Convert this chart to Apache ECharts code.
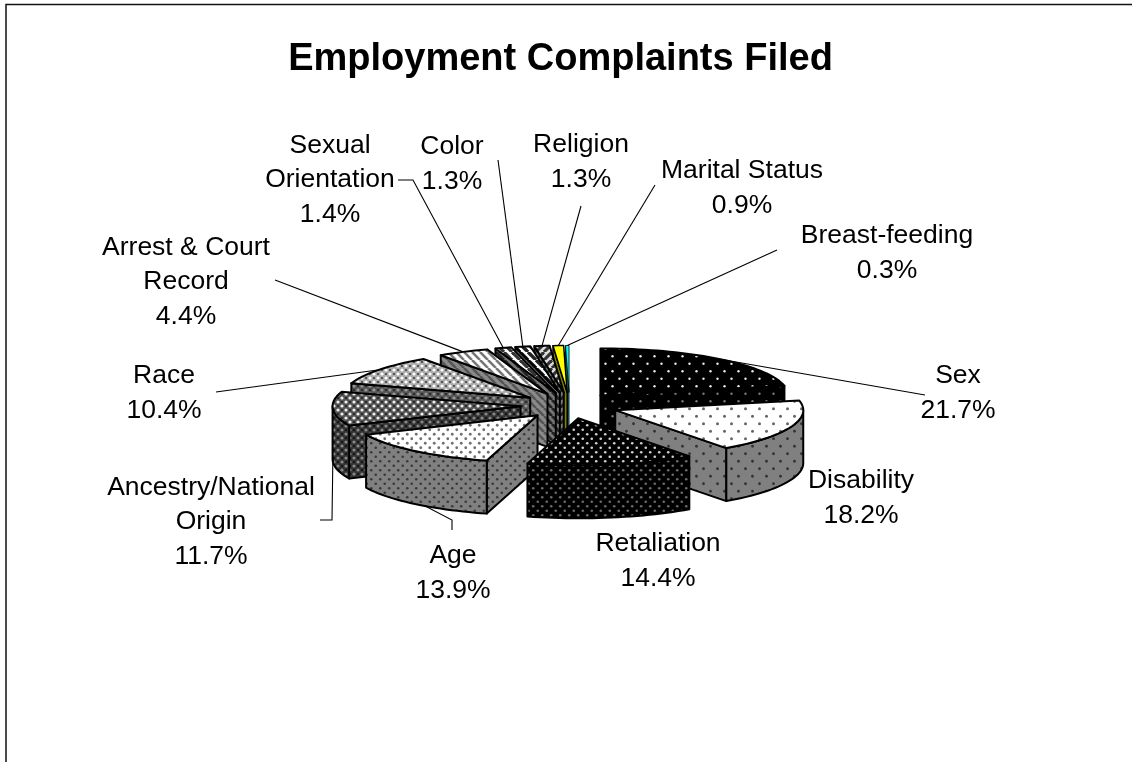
<!DOCTYPE html>
<html><head><meta charset="utf-8">
<style>html,body{margin:0;padding:0;background:#fff}#c{width:1132px;height:762px}</style>
<script src="https://cdn.jsdelivr.net/npm/echarts@6/dist/echarts.min.js"></script>
</head><body><div id="c"></div>
<script>
// ---- data ----
const categories = ['Sex','Disability','Retaliation','Age','Ancestry/National\nOrigin','Race','Arrest & Court\nRecord','Sexual\nOrientation','Color','Religion','Marital Status','Breast-feeding'];
const values = [21.7,18.2,14.4,13.9,11.7,10.4,4.4,1.4,1.3,1.3,0.9,0.3];
const titleText = 'Employment Complaints Filed';

// ---- layout, kept apart from the data ----
const G = {cx:569.5, cy:405.5, rx:188, ry:47, depth:53, ex:49, ey:13};
const drawOrder = [11,10,9,8,7,6,5,0,4,1,3,2];            // back to front
const labelCentres = [[958,393],[861,498],[658,561],[453,573],[211,522],[164,393],[186,282],[330,180],[452,164],[581,162],[742,188],[887,253]];
// leader start points (null = no leader), optional elbow, how far down the wall it meets the slice, angle nudge
const leaderStarts = [[[925,395]],null,null,[[452,530],[452,520]],[[320,520],[332,520]],[[216,392]],[[275,280]],[[398,180],[413,180]],[[498,160]],[[581,206]],[[655,185]],[[777,250]]];
const leaderWall = [0,0,0,1,0.95,0,0,0,0,0,0,0];
const leaderNudge = [0,0,0,-4,0,0,0,0,0,0,0,0];
const edgeWidths = [2,2,2,2,2,2,2,2,2,2,1.5,0.8];

function tile(w,h,bg,draw){const c=document.createElement('canvas');c.width=w;c.height=h;const x=c.getContext('2d');x.fillStyle=bg;x.fillRect(0,0,w,h);draw(x);return {image:c,repeat:'repeat'};}
function dots(bg,fg,w,h,r){return tile(w,h,bg,x=>{x.fillStyle=fg;[[w/4,h/4],[3*w/4,3*h/4]].forEach(p=>{x.beginPath();x.arc(p[0],p[1],r,0,7);x.fill();});});}
function plaid(bg,fg,dk,s){return tile(s,s,bg,x=>{x.fillStyle=fg;[[s/4,s/4],[3*s/4,3*s/4]].forEach(p=>{x.beginPath();x.arc(p[0],p[1],s*0.2,0,7);x.fill();});x.fillStyle=dk;[[s/4,3*s/4],[3*s/4,s/4]].forEach(p=>{x.beginPath();x.arc(p[0],p[1],s*0.14,0,7);x.fill();});});}
function stripes(bg,fg,s,lw,dir){return tile(s,s,bg,x=>{x.strokeStyle=fg;x.lineWidth=lw;for(let i=-s;i<=2*s;i+=s){x.beginPath();if(dir>0){x.moveTo(i,0);x.lineTo(i+s,s);}else{x.moveTo(i+s,0);x.lineTo(i,s);}x.stroke();}});}
const topFills = [
  dots('#000','#e8e8e8',14,15,1.2),
  dots('#fff','#666',14,15,1.5),
  dots('#000','#d0d0d0',9,9,1.3),
  dots('#fff','#707070',9,9,1.4),
  plaid('#555','#eee','#222',8),
  plaid('#aaa','#fff','#444',8),
  stripes('#fff','#777',8,2.6,1),
  stripes('#fff','#333',8,3.2,1),
  stripes('#fff','#222',8,3.4,1),
  stripes('#ddd','#333',8,3.2,-1),
  '#ffff00','#00ffff'];
const sideFills = [
  dots('#000','#7a7a7a',14,15,1.2),
  dots('#808080','#333',14,15,1.4),
  dots('#000','#6a6a6a',9,9,1.3),
  dots('#808080','#3a3a3a',9,9,1.3),
  plaid('#333','#888','#111',8),
  plaid('#555','#999','#222',8),
  stripes('#8a8a8a','#555',8,2.6,1),
  stripes('#777','#222',8,3,1),
  stripes('#777','#222',8,3,1),
  stripes('#777','#222',8,3,-1),
  '#808000','#008080'];

const total = values.reduce((a,b)=>a+b,0);
const spans = []; { let acc=0; values.forEach(v=>{spans.push([acc/total*360,(acc+v)/total*360]);acc+=v;}); }
const rad=d=>d*Math.PI/180;
function apex(i){const m=rad((spans[i][0]+spans[i][1])/2);return [G.cx+G.ex*Math.sin(m),G.cy-G.ey*Math.cos(m)];}
function rim(i,deg,dz){const a=apex(i),t=rad(deg);return [a[0]+G.rx*Math.sin(t),a[1]-G.ry*Math.cos(t)+(dz||0)];}
function arc(i,a1,a2,dz){const n=Math.max(2,Math.ceil((a2-a1)/2)),p=[];for(let k=0;k<=n;k++)p.push(rim(i,a1+(a2-a1)*k/n,dz));return p;}
function poly(i,points,fill){return {type:'polygon',shape:{points},style:{fill,stroke:'#000',lineWidth:edgeWidths[i],lineJoin:'round'}};}

function renderSlice(params,api){
  const i=api.value(0),a1=spans[i][0],a2=spans[i][1],A=apex(i),d=G.depth,kids=[];
  const cut=deg=>{const r=rim(i,deg);return poly(i,[A,r,[r[0],r[1]+d],[A[0],A[1]+d]],sideFills[i]);};
  if(Math.sin(rad(a1))<0) kids.push(cut(a1));
  if(Math.sin(rad(a2))>0) kids.push(cut(a2));
  const w1=Math.max(a1,90),w2=Math.min(a2,270);
  if(w2>w1) kids.push(poly(i,arc(i,w1,w2,0).concat(arc(i,w1,w2,d).reverse()),sideFills[i]));
  kids.push(poly(i,[A].concat(arc(i,a1,a2,0)),topFills[i]));
  return {type:'group',children:kids};
}
function renderLabel(params,api){
  const i=api.value(0),kids=[],s=leaderStarts[i];
  if(s){const end=rim(i,(spans[i][0]+spans[i][1])/2+leaderNudge[i],leaderWall[i]*G.depth);
    kids.push({type:'polyline',shape:{points:s.concat([end])},style:{stroke:'#000',lineWidth:1.1,fill:null}});}
  const c=labelCentres[i];
  kids.push({type:'text',x:c[0],y:c[1],style:{text:categories[i]+'\n'+values[i].toFixed(1)+'%',fill:'#000',font:'26.5px "Liberation Sans", Arial, sans-serif',lineHeight:34.5,align:'center',verticalAlign:'middle'}});
  return {type:'group',children:kids};
}
const chart=echarts.init(document.getElementById('c'),null,{renderer:'canvas'});
chart.setOption({
  animation:false,backgroundColor:'#fff',
  title:{text:titleText,left:555.5,top:36,textAlign:'center',textStyle:{fontFamily:'"Liberation Sans", Arial, sans-serif',fontSize:38,fontWeight:'bold',color:'#000'}},
  graphic:[{type:'polyline',silent:true,shape:{points:[[6,762],[6,4.5],[1132,4.5]]},style:{stroke:'#111',lineWidth:1.5,fill:null}}],
  series:[
    {type:'custom',coordinateSystem:'none',clip:false,silent:true,z:2,renderItem:renderSlice,data:drawOrder.map(i=>[i])},
    {type:'custom',coordinateSystem:'none',clip:false,silent:true,z:3,renderItem:renderLabel,data:categories.map((c,i)=>[i])}
  ]
});
</script></body></html>
